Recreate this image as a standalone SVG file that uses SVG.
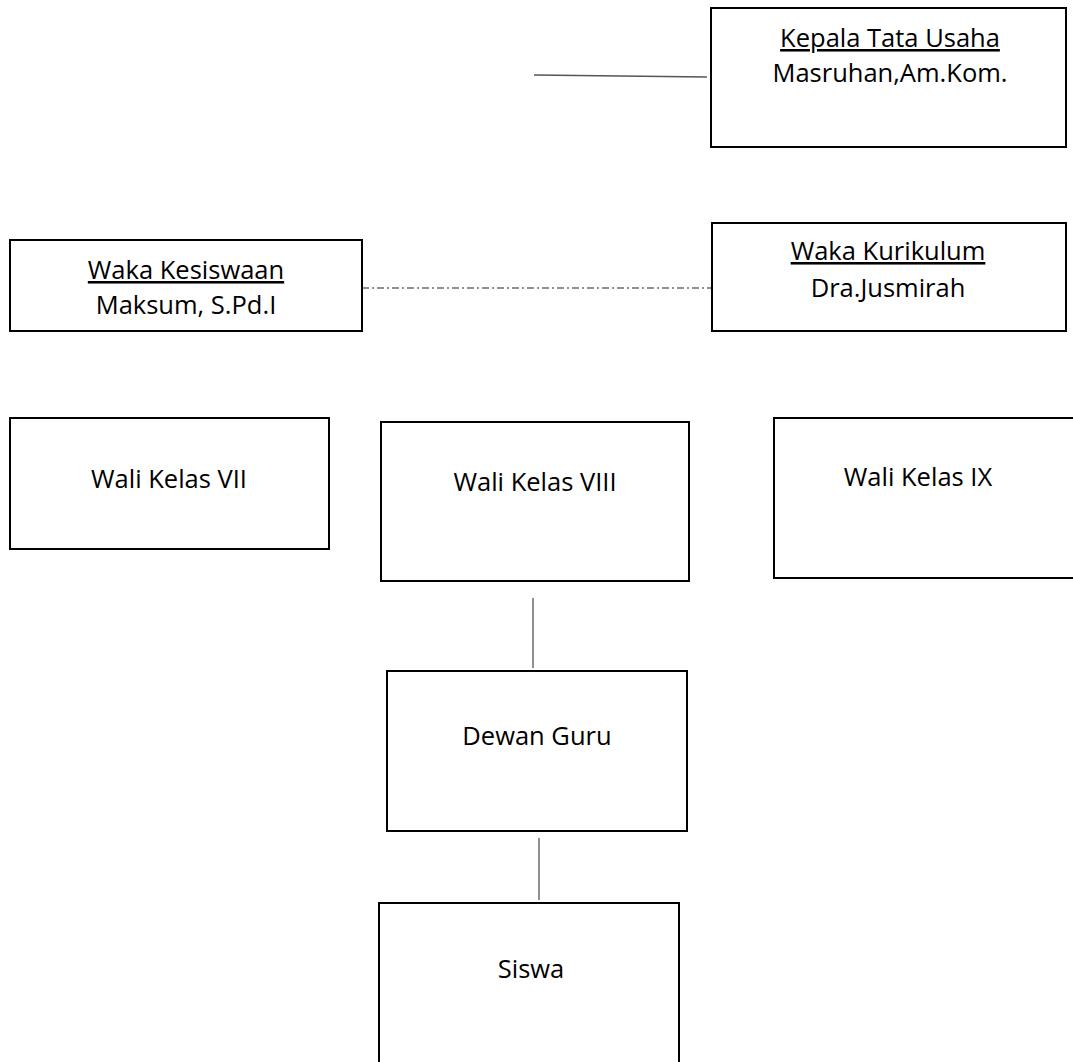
<svg xmlns="http://www.w3.org/2000/svg" width="1073" height="1062" viewBox="0 0 1073 1062">
<style>
.box{fill:#fff;stroke:#000;stroke-width:2}
.t{font-family:"Open Sans","Noto Sans",sans-serif;font-size:25.5px;fill:#000;text-anchor:middle}
.u{text-decoration:underline}
.c{stroke:#555;stroke-width:1.3;fill:none}
.d{stroke:#222;stroke-width:1.2;fill:none;stroke-dasharray:7,3,2,3}
</style>
<rect width="1073" height="1062" fill="#fff"/>
<g id="connectors">
<line class="c" x1="534" y1="75" x2="707" y2="77"/>
<line class="d" x1="362" y1="288" x2="712" y2="288"/>
<line class="c" x1="533" y1="598" x2="533" y2="668"/>
<line class="c" x1="539" y1="838" x2="539" y2="900"/>
</g>
<g id="kepala-tata-usaha">
<rect class="box" x="711" y="8" width="355" height="139"/>
<text class="t u" x="890" y="47">Kepala Tata Usaha</text>
<text class="t" x="890" y="82">Masruhan,Am.Kom.</text>
</g>
<g id="waka-kesiswaan">
<rect class="box" x="10" y="240" width="352" height="91"/>
<text class="t u" x="186" y="279">Waka Kesiswaan</text>
<text class="t" x="186" y="314">Maksum, S.Pd.I</text>
</g>
<g id="waka-kurikulum">
<rect class="box" x="712" y="223" width="354" height="108"/>
<text class="t u" x="888" y="260">Waka Kurikulum</text>
<text class="t" x="888" y="297">Dra.Jusmirah</text>
</g>
<g id="wali-kelas-vii">
<rect class="box" x="10" y="418" width="319" height="131"/>
<text class="t" x="169" y="488">Wali Kelas VII</text>
</g>
<g id="wali-kelas-viii">
<rect class="box" x="381" y="422" width="308" height="159"/>
<text class="t" x="535" y="491">Wali Kelas VIII</text>
</g>
<g id="wali-kelas-ix">
<rect class="box" x="774" y="418" width="310" height="160"/>
<text class="t" x="918" y="486">Wali Kelas IX</text>
</g>
<g id="dewan-guru">
<rect class="box" x="387" y="671" width="300" height="160"/>
<text class="t" x="537" y="745">Dewan Guru</text>
</g>
<g id="siswa">
<rect class="box" x="379" y="903" width="300" height="170"/>
<text class="t" x="531" y="978">Siswa</text>
</g>
</svg>
